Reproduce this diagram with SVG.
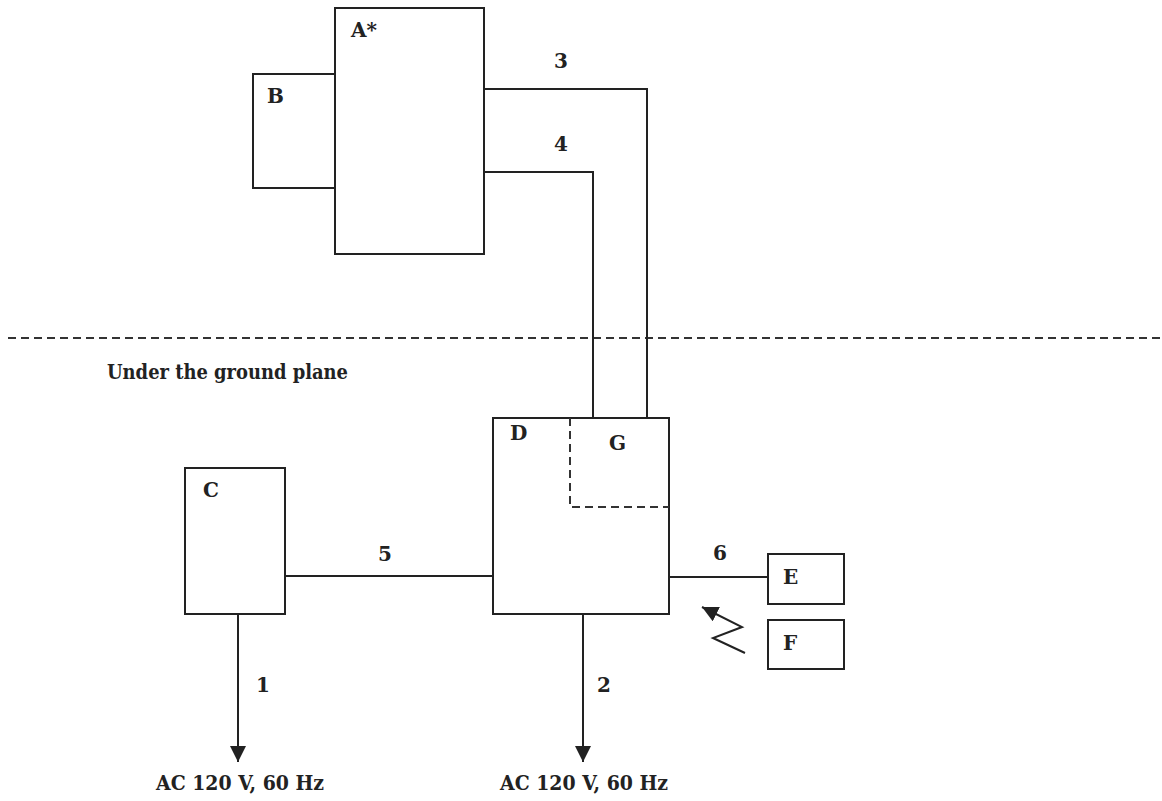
<svg xmlns="http://www.w3.org/2000/svg" width="1162" height="801" viewBox="0 0 1162 801">
<defs>
<style>
.box{fill:none;stroke:#222;stroke-width:2}
.ln{fill:none;stroke:#222;stroke-width:2}
.dash{fill:none;stroke:#333;stroke-width:2;stroke-dasharray:8,5}
text{font-family:"DejaVu Serif","Liberation Serif",serif;font-size:20px;font-weight:bold;fill:#222}
</style>
<marker id="arr" viewBox="0 0 16 16" refX="16" refY="8" markerWidth="16" markerHeight="16" markerUnits="userSpaceOnUse" orient="auto">
<path d="M0,0 L16,8 L0,16 z" fill="#222"/>
</marker>
<marker id="arrD" viewBox="0 0 16 16" refX="16" refY="8" markerWidth="16" markerHeight="16" markerUnits="userSpaceOnUse" orient="auto">
<path d="M0,0 L16,8 L0,16 z" fill="#222"/>
</marker>
</defs>
<rect width="1162" height="801" fill="#fff"/>
<g id="ground">
<line class="dash" x1="8" y1="338" x2="1162" y2="338"/>
<text x="107" y="379" textLength="241" lengthAdjust="spacingAndGlyphs">Under the ground plane</text>
</g>
<g id="nodeA"><rect class="box" x="335" y="8" width="149" height="246"/><text x="351" y="37">A*</text></g>
<g id="nodeB"><rect class="box" x="253" y="74" width="82" height="114"/><text x="267" y="103">B</text></g>
<g id="nodeD"><rect class="box" x="493" y="418" width="176" height="196"/><text x="510" y="440">D</text></g>
<g id="nodeG"><path class="dash" d="M570,418 V507 H669"/><text x="609" y="450">G</text></g>
<g id="nodeC"><rect class="box" x="185" y="468" width="100" height="146"/><text x="203" y="497">C</text></g>
<g id="nodeE"><rect class="box" x="768" y="554" width="76" height="50"/><text x="783" y="584">E</text></g>
<g id="nodeF"><rect class="box" x="768" y="620" width="76" height="49"/><text x="783" y="650">F</text></g>
<g id="connectors">
<path class="ln" d="M484,89 H647 V418"/>
<text x="554" y="68">3</text>
<path class="ln" d="M484,172 H593 V418"/>
<text x="554" y="151">4</text>
<line class="ln" x1="285" y1="576" x2="493" y2="576"/>
<text x="378" y="561">5</text>
<line class="ln" x1="669" y1="577" x2="768" y2="577"/>
<text x="713" y="560">6</text>
<line class="ln" x1="238" y1="614" x2="238" y2="762" marker-end="url(#arr)"/>
<text x="256" y="692">1</text>
<line class="ln" x1="583" y1="614" x2="583" y2="762" marker-end="url(#arr)"/>
<text x="597" y="692">2</text>
<path class="ln" d="M745,653 L713,638 L742,627 L702,607" marker-end="url(#arrD)"/>
</g>
<g id="labels">
<text x="156" y="790" textLength="168" lengthAdjust="spacingAndGlyphs">AC 120 V, 60 Hz</text>
<text x="500" y="790" textLength="168" lengthAdjust="spacingAndGlyphs">AC 120 V, 60 Hz</text>
</g>
</svg>
